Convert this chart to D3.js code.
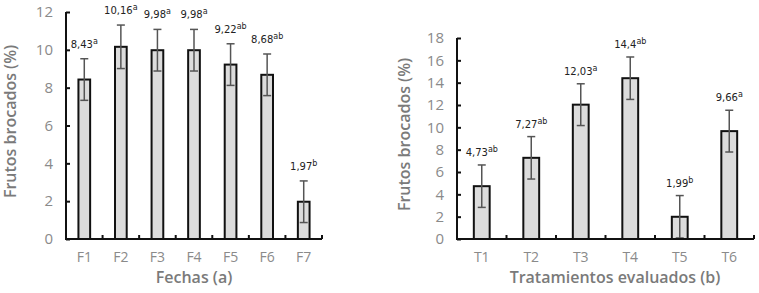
<!DOCTYPE html>
<html>
<head>
<meta charset="utf-8">
<script src="https://cdn.jsdelivr.net/npm/d3@7"></script>
<style>
  body { margin: 0; background: #fff; }
  svg { display: block; font-family: "Open Sans", sans-serif; }
</style>
</head>
<body>
<svg id="chart" width="759" height="293"></svg>
<script>
// Panel (a): fechas
const fechas = ["F1", "F2", "F3", "F4", "F5", "F6", "F7"];
const fechasValues = [8.43, 10.16, 9.98, 9.98, 9.22, 8.68, 1.97];
const fechasErrors = [1.1, 1.15, 1.1, 1.1, 1.1, 1.1, 1.1];
const fechasLetters = ["a", "a", "a", "a", "ab", "ab", "b"];
const fechasTicks = [0, 2, 4, 6, 8, 10, 12];

// Panel (b): tratamientos
const tratamientos = ["T1", "T2", "T3", "T4", "T5", "T6"];
const tratValues = [4.73, 7.27, 12.03, 14.4, 1.99, 9.66];
const tratErrors = [1.9, 1.9, 1.87, 1.9, 1.9, 1.87];
const tratLetters = ["ab", "ab", "a", "ab", "b", "a"];
const tratTicks = [0, 2, 4, 6, 8, 10, 12, 14, 16, 18];

const svg = d3.select("#chart");

function drawPanel(opts) {
    const g = svg.append("g");

    const x = d3.scaleBand()
        .domain(opts.categories)
        .range([opts.left, opts.right]);

    const y = d3.scaleLinear()
        .domain([0, d3.max(opts.ticks)])
        .range([opts.bottom, opts.top]);

    const barW = x.bandwidth() * 0.32;

    // bars
    g.selectAll("rect.bar")
        .data(opts.values)
        .enter().append("rect")
        .attr("class", "bar")
        .attr("x", (d, i) => x(opts.categories[i]) + x.bandwidth() / 2 - barW / 2)
        .attr("y", d => y(d))
        .attr("width", barW)
        .attr("height", d => y(0) - y(d))
        .attr("fill", "#dcdcdc")
        .attr("stroke", "#111")
        .attr("stroke-width", 2);

    // error bars
    const err = g.selectAll("g.err")
        .data(opts.values)
        .enter().append("g")
        .attr("stroke", "#555")
        .attr("stroke-width", 1.5);

    const cx = (i) => x(opts.categories[i]) + x.bandwidth() / 2;
    err.append("line")
        .attr("x1", (d, i) => cx(i)).attr("x2", (d, i) => cx(i))
        .attr("y1", (d, i) => y(Math.max(0, d - opts.errors[i])))
        .attr("y2", (d, i) => y(d + opts.errors[i]));
    err.append("line")
        .attr("x1", (d, i) => cx(i) - 4).attr("x2", (d, i) => cx(i) + 4)
        .attr("y1", (d, i) => y(d + opts.errors[i]))
        .attr("y2", (d, i) => y(d + opts.errors[i]));
    err.append("line")
        .attr("x1", (d, i) => cx(i) - 4).attr("x2", (d, i) => cx(i) + 4)
        .attr("y1", (d, i) => y(Math.max(0, d - opts.errors[i])))
        .attr("y2", (d, i) => y(Math.max(0, d - opts.errors[i])));

    // value labels with superscript letters
    const lab = g.selectAll("text.val")
        .data(opts.values)
        .enter().append("text")
        .attr("class", "val")
        .attr("x", (d, i) => cx(i))
        .attr("y", (d, i) => y(d + opts.errors[i]) - opts.labelGap)
        .attr("text-anchor", "middle")
        .attr("font-family", "DejaVu Sans, sans-serif")
        .attr("font-size", 10)
        .attr("fill", "#222");
    lab.append("tspan")
        .text(d => String(d).replace(".", ","));
    lab.append("tspan")
        .attr("dy", -4)
        .attr("font-size", 8)
        .text((d, i) => opts.letters[i]);

    // y axis
    const yAxis = d3.axisLeft(y)
        .tickValues(opts.ticks)
        .tickSize(-4)
        .tickPadding(13);
    const ya = g.append("g")
        .attr("transform", `translate(${opts.left},0)`)
        .call(yAxis);
    ya.select(".domain").attr("stroke", "#111").attr("stroke-width", 2)
        .attr("d", `M0,${opts.top}V${opts.bottom}`);
    ya.selectAll(".tick line").attr("stroke", "#111").attr("stroke-width", 2);
    ya.selectAll(".tick text")
        .attr("fill", "#8a8a8a")
        .attr("font-size", 15)
        .attr("font-family", "Open Sans, sans-serif");

    // x axis: band boundary ticks pointing up
    const xa = g.append("g");
    xa.append("line")
        .attr("x1", opts.left - 1).attr("x2", opts.right)
        .attr("y1", y(0)).attr("y2", y(0))
        .attr("stroke", "#111").attr("stroke-width", 2);
    xa.selectAll("line.bt")
        .data(opts.categories)
        .enter().append("line")
        .attr("class", "bt")
        .attr("x1", d => x(d) + x.bandwidth()).attr("x2", d => x(d) + x.bandwidth())
        .attr("y1", y(0)).attr("y2", y(0) - 4)
        .attr("stroke", "#111").attr("stroke-width", 2);
    xa.selectAll("text")
        .data(opts.categories)
        .enter().append("text")
        .attr("x", d => x(d) + x.bandwidth() / 2)
        .attr("y", y(0) + 23)
        .attr("text-anchor", "middle")
        .attr("fill", "#8a8a8a")
        .attr("font-size", 14)
        .text(d => d);

    // axis titles
    g.append("text")
        .attr("x", opts.xTitleX)
        .attr("y", y(0) + 44)
        .attr("text-anchor", "middle")
        .attr("fill", "#7a7a7a")
        .attr("font-size", 16)
        .attr("font-weight", 600)
        .text(opts.xTitle);

    g.append("text")
        .attr("transform", `translate(${opts.yTitleX},${(opts.top + opts.bottom) / 2 - 4}) rotate(-90)`)
        .attr("text-anchor", "middle")
        .attr("fill", "#7a7a7a")
        .attr("font-size", 16)
        .attr("font-weight", 600)
        .text("Frutos brocados (%)");
}

drawPanel({
    categories: fechas, values: fechasValues, errors: fechasErrors,
    letters: fechasLetters, ticks: fechasTicks,
    left: 66, right: 322, top: 12, bottom: 239,
    labelGap: 11, xTitle: "Fechas (a)", xTitleX: 194, yTitleX: 16
});

drawPanel({
    categories: tratamientos, values: tratValues, errors: tratErrors,
    letters: tratLetters, ticks: tratTicks,
    left: 457, right: 754, top: 38, bottom: 239,
    labelGap: 9, xTitle: "Tratamientos evaluados (b)", xTitleX: 615, yTitleX: 410
});
</script>
</body>
</html>
